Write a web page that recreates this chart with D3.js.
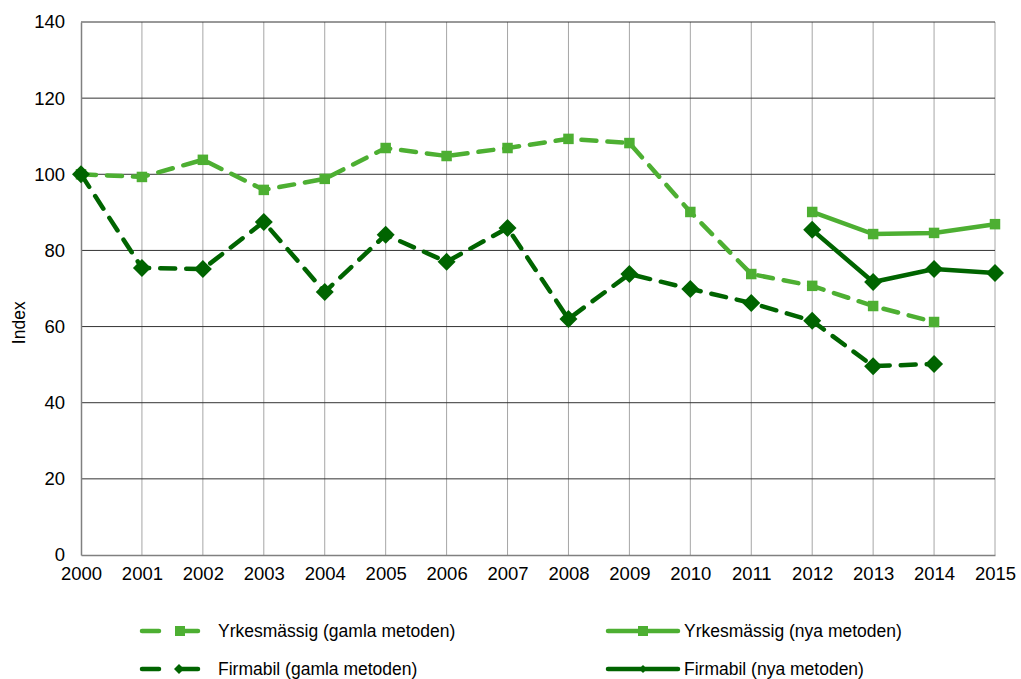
<!DOCTYPE html>
<html>
<head>
<meta charset="utf-8">
<script src="https://cdn.jsdelivr.net/npm/d3@7"></script>
<style>
body { margin: 0; background: #fff; }
text { font-family: "Liberation Sans", Arial, sans-serif; fill: #000; }
</style>
</head>
<body>
<script>
// data
const years = [2000, 2001, 2002, 2003, 2004, 2005, 2006, 2007, 2008, 2009, 2010, 2011, 2012, 2013, 2014, 2015];
const yTicks = [0, 20, 40, 60, 80, 100, 120, 140];

const yrkesGamla = [100, 99.3, 103.8, 95.9, 98.8, 106.9, 104.8, 106.9, 109.3, 108.2, 90.1, 73.8, 70.7, 65.4, 61.2];
const firmaGamla = [100, 75.4, 75.1, 87.5, 69.1, 84.1, 77.0, 85.9, 62.0, 73.8, 69.9, 66.2, 61.5, 49.6, 50.2];
const yrkesNyaYears = [2012, 2013, 2014, 2015];
const yrkesNya = [90.1, 84.3, 84.6, 86.9];
const firmaNyaYears = [2012, 2013, 2014, 2015];
const firmaNya = [85.4, 71.7, 75.1, 74.1];

const light = "#4daf32", dark = "#006400";

let svg = d3.select("body").append("svg")
    .attr("width", 1021)
    .attr("height", 679);

let x = d3.scaleLinear().domain([2000, 2015]).range([81, 995]);
let y = d3.scaleLinear().domain([0, 140]).range([555, 22]);

// grid
svg.append("g").selectAll("line").data(years.slice(1)).join("line")
    .attr("x1", d => x(d)).attr("x2", d => x(d))
    .attr("y1", y(140)).attr("y2", y(0))
    .attr("stroke", "#a6a6a6").attr("stroke-width", 1);
svg.append("g").selectAll("line").data(yTicks.slice(1)).join("line")
    .attr("x1", x(2000)).attr("x2", x(2015))
    .attr("y1", d => y(d)).attr("y2", d => y(d))
    .attr("stroke", "#333").attr("stroke-width", 1);

// axes
let yAxis = svg.append("g").attr("transform", `translate(${x(2000)},0)`)
    .call(d3.axisLeft(y).tickValues(yTicks).tickSize(0).tickPadding(16));
let xAxis = svg.append("g").attr("transform", `translate(0,${y(0)})`)
    .call(d3.axisBottom(x).tickValues(years).tickFormat(d3.format("d")).tickSize(0).tickPadding(12));
[xAxis, yAxis].forEach(a => {
    a.select(".domain").attr("stroke", "#808080").attr("stroke-width", 1.5);
    a.selectAll("text").style("font-size", "18.5px").style("font-family", "Liberation Sans, Arial, sans-serif");
});

svg.append("text")
    .attr("transform", `translate(25,${y(61)}) rotate(-90)`)
    .attr("text-anchor", "middle")
    .style("font-size", "17.5px")
    .text("Index");

let line = d3.line().x(d => x(d[0])).y(d => y(d[1]));

function series(xs, vals, color, dashed, shape) {
    let pts = vals.map((v, i) => [xs[i], v]);
    svg.append("path").datum(pts)
        .attr("d", line)
        .attr("fill", "none")
        .attr("stroke", color)
        .attr("stroke-width", 4.5)
        .attr("stroke-linecap", dashed ? "round" : "butt")
        .attr("stroke-dasharray", dashed ? "15,11" : null);
    svg.append("g").selectAll("path").data(pts).join("path")
        .attr("transform", d => `translate(${x(d[0])},${y(d[1])})`)
        .attr("d", shape === "square" ? d3.symbol(d3.symbolSquare, 110) : diamond(9))
        .attr("fill", color);
}

function diamond(r) {
    return `M0,${-r}L${r},0L0,${r}L${-r},0Z`;
}

series(years, yrkesGamla, light, true, "square");
series(years, firmaGamla, dark, true, "diamond");
series(yrkesNyaYears, yrkesNya, light, false, "square");
series(firmaNyaYears, firmaNya, dark, false, "diamond");

// legend
const legendItems = [
    {label: "Yrkesmässig (gamla metoden)", color: light, dashed: true, shape: "square", lx: 142, ly: 631, tx: 218},
    {label: "Yrkesmässig (nya metoden)", color: light, dashed: false, shape: "square", lx: 608, ly: 631, tx: 684},
    {label: "Firmabil (gamla metoden)", color: dark, dashed: true, shape: "diamond", lx: 142, ly: 669, tx: 218},
    {label: "Firmabil (nya metoden)", color: dark, dashed: false, shape: "diamond", lx: 608, ly: 669, tx: 684}
];

let lg = svg.append("g").selectAll("g").data(legendItems).join("g");
lg.each(function(d) {
    let g = d3.select(this);
    if (d.dashed) {
        g.append("line").attr("x1", d.lx).attr("x2", d.lx + 17).attr("y1", d.ly).attr("y2", d.ly)
            .attr("stroke", d.color).attr("stroke-width", 4.5).attr("stroke-linecap", "round");
        g.append("line").attr("x1", d.lx + 36).attr("x2", d.lx + 56).attr("y1", d.ly).attr("y2", d.ly)
            .attr("stroke", d.color).attr("stroke-width", 4.5).attr("stroke-linecap", "round");
        if (d.shape === "square") {
            g.append("rect").attr("x", d.lx + 33).attr("y", d.ly - 5).attr("width", 10).attr("height", 10).attr("fill", d.color);
        } else {
            g.append("path").attr("transform", `translate(${d.lx + 37},${d.ly})`).attr("d", diamond(5)).attr("fill", d.color);
        }
    } else {
        g.append("line").attr("x1", d.lx).attr("x2", d.lx + 70).attr("y1", d.ly).attr("y2", d.ly)
            .attr("stroke", d.color).attr("stroke-width", 4.5).attr("stroke-linecap", "round");
        if (d.shape === "square") {
            g.append("rect").attr("x", d.lx + 30).attr("y", d.ly - 5).attr("width", 10).attr("height", 10).attr("fill", d.color);
        } else {
            g.append("path").attr("transform", `translate(${d.lx + 35},${d.ly})`).attr("d", diamond(4)).attr("fill", d.color);
        }
    }
    g.append("text").attr("x", d.tx).attr("y", d.ly + 6).style("font-size", "17.5px").text(d.label);
});
</script>
</body>
</html>
